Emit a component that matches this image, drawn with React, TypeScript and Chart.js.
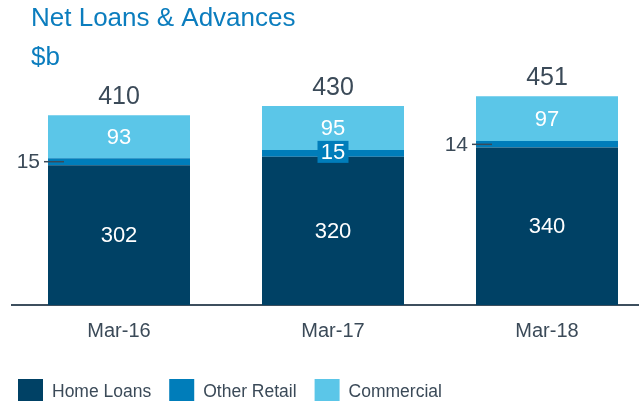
import React, { useEffect, useRef } from "react";
import { Chart, registerables } from "chart.js";

Chart.register(...registerables);

const categories = ["Mar-16", "Mar-17", "Mar-18"];
const homeLoans = [302, 320, 340];
const otherRetail = [15, 15, 14];
const commercial = [93, 95, 97];
const totals = [410, 430, 451];
const seriesNames = ["Home Loans", "Other Retail", "Commercial"];
const seriesColors = ["#004165", "#007dba", "#5bc6e8"];
const otherRetailLabelStyle = ["outside", "boxed", "outside"];
const titleText = "Net Loans & Advances";
const unitText = "$b";

const FONT = '"Liberation Sans", Arial, Helvetica, sans-serif';
const GRAY = "#3b4a58";
const TITLE_BLUE = "#0b7dbe";

const labelPlugin = {
  id: "customLabels",
  afterDraw(chart: any) {
    const ctx = chart.ctx as CanvasRenderingContext2D;
    ctx.save();

    // Title
    ctx.fillStyle = TITLE_BLUE;
    ctx.font = `26px ${FONT}`;
    ctx.textAlign = "left";
    ctx.textBaseline = "alphabetic";
    ctx.fillText(titleText, 31, 26);
    ctx.fillText(unitText, 31, 65);

    const homeMeta = chart.getDatasetMeta(0);
    const otherMeta = chart.getDatasetMeta(1);
    const commMeta = chart.getDatasetMeta(2);

    // Home loans + commercial labels (white, inside)
    ctx.fillStyle = "#ffffff";
    ctx.font = `22px ${FONT}`;
    ctx.textAlign = "center";
    ctx.textBaseline = "middle";
    homeMeta.data.forEach((el: any, i: number) => {
      const cy = (el.y + el.base) / 2;
      ctx.fillText(String(homeLoans[i]), el.x, cy + 1);
    });
    commMeta.data.forEach((el: any, i: number) => {
      const cy = (el.y + el.base) / 2;
      ctx.fillText(String(commercial[i]), el.x, cy + 1);
    });

    // Other retail labels
    otherMeta.data.forEach((el: any, i: number) => {
      const cy = (el.y + el.base) / 2;
      const left = el.x - el.width / 2;
      if (otherRetailLabelStyle[i] === "boxed") {
        ctx.fillStyle = seriesColors[1];
        ctx.fillRect(el.x - 15.5, cy - 1.5 - 11, 31, 22);
        ctx.fillStyle = "#ffffff";
        ctx.font = `22px ${FONT}`;
        ctx.textAlign = "center";
        ctx.textBaseline = "middle";
        ctx.fillText(String(otherRetail[i]), el.x, cy - 0.5);
      } else {
        ctx.strokeStyle = GRAY;
        ctx.lineWidth = 1.5;
        ctx.beginPath();
        ctx.moveTo(left - 4, cy);
        ctx.lineTo(left + 16, cy);
        ctx.stroke();
        ctx.fillStyle = GRAY;
        ctx.font = `21px ${FONT}`;
        ctx.textAlign = "right";
        ctx.textBaseline = "middle";
        ctx.fillText(String(otherRetail[i]), left - 8, cy + 1);
      }
    });

    // Totals
    ctx.fillStyle = GRAY;
    ctx.font = `25px ${FONT}`;
    ctx.textAlign = "center";
    ctx.textBaseline = "alphabetic";
    commMeta.data.forEach((el: any, i: number) => {
      ctx.fillText(String(totals[i]), el.x, el.y - 11);
    });

    // Legend
    ctx.font = `17.5px ${FONT}`;
    ctx.textAlign = "left";
    ctx.textBaseline = "middle";
    let x = 18;
    seriesNames.forEach((name, i) => {
      ctx.fillStyle = seriesColors[i];
      ctx.fillRect(x, 379, 25, 22);
      x += 25 + 9;
      ctx.fillStyle = GRAY;
      ctx.fillText(name, x, 392.5);
      x += ctx.measureText(name).width + 18;
    });

    ctx.restore();
  },
};

export default function App() {
  const canvasRef = useRef<HTMLCanvasElement | null>(null);

  useEffect(() => {
    if (!canvasRef.current) return;
    const chart = new Chart(canvasRef.current, {
      type: "bar",
      data: {
        labels: categories,
        datasets: [
          { label: seriesNames[0], data: homeLoans, backgroundColor: seriesColors[0] },
          { label: seriesNames[1], data: otherRetail, backgroundColor: seriesColors[1] },
          { label: seriesNames[2], data: commercial, backgroundColor: seriesColors[2] },
        ],
      },
      options: {
        responsive: false,
        animation: false,
        datasets: {
          bar: {
            categoryPercentage: 1,
            barPercentage: 142 / 214,
            borderWidth: 0,
          },
        },
        layout: { padding: { left: 12, right: 6, top: 73.5, bottom: 56 } },
        plugins: {
          legend: { display: false },
          tooltip: { enabled: false },
          title: { display: false },
        },
        scales: {
          x: {
            stacked: true,
            grid: { display: false, drawTicks: false },
            border: { display: true, color: "#3d4f5e", width: 2 },
            ticks: { color: GRAY, font: { family: FONT, size: 20 }, padding: 14 },
            afterFit: (s: any) => {
              s.height = 40;
            },
          },
          y: { stacked: true, display: false, min: 0, max: 500 },
        },
      },
      plugins: [labelPlugin],
    } as any);
    return () => chart.destroy();
  }, []);

  return (
    <div
      style={{
        position: "absolute",
        left: 0,
        top: 0,
        width: 639,
        height: 401,
        overflow: "hidden",
      }}
    >
      <canvas ref={canvasRef} width={660} height={401} style={{ display: "block" }} />
    </div>
  );
}
